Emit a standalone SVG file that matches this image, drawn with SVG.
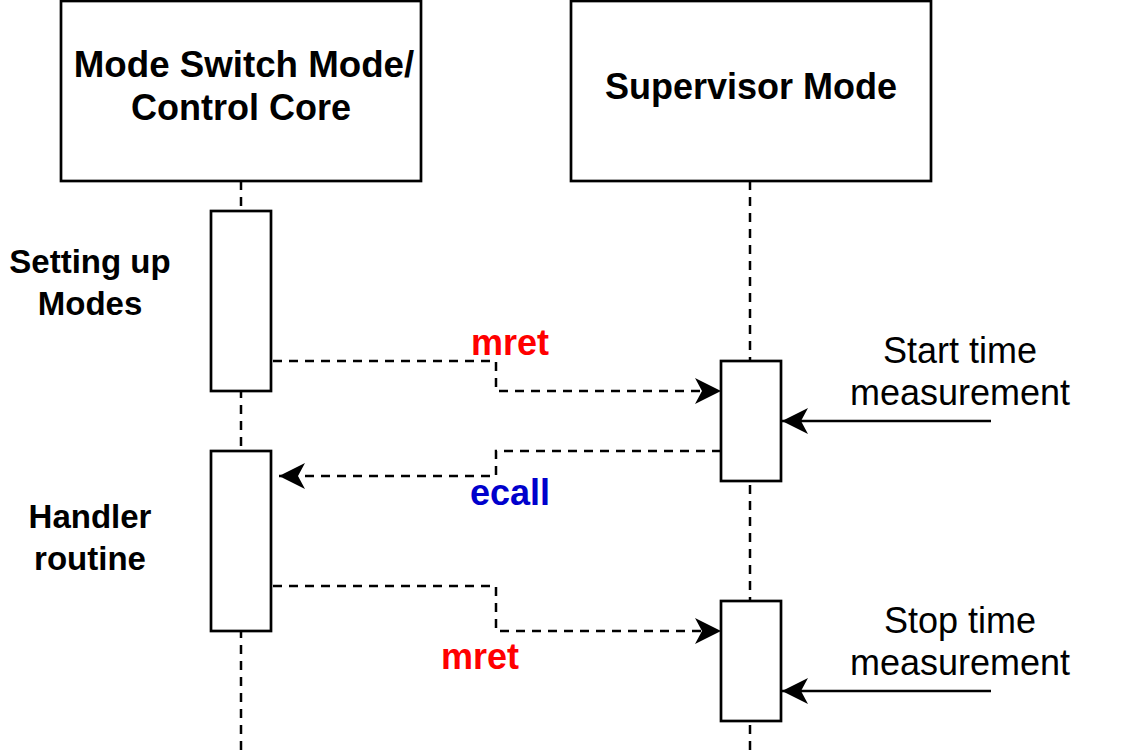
<svg xmlns="http://www.w3.org/2000/svg" width="1140" height="756" viewBox="0 0 1140 756">
<style>
.box{fill:#fff;stroke:#000;stroke-width:2.7}
.life{stroke:#000;stroke-width:2.5;stroke-dasharray:9 7;fill:none}
.msg{stroke:#000;stroke-width:2.5;stroke-dasharray:9 7;fill:none}
.solid{stroke:#000;stroke-width:2.7;fill:none}
text{font-family:"Liberation Sans",Arial,Helvetica,sans-serif;font-size:36px;text-anchor:middle;fill:#000}
.b{font-weight:bold}
.side{font-size:33px}
</style>
<defs>
<marker id="arr" markerUnits="userSpaceOnUse" markerWidth="28" markerHeight="28" viewBox="0 0 28 28" refX="26" refY="14" orient="auto">
<path d="M26,14 L0,1 L7,14 L0,27 Z" fill="#000"/>
</marker>
</defs>
<rect width="1140" height="756" fill="#fff"/>
<g id="lifelines">
<line class="life" x1="241" y1="181" x2="241" y2="756"/>
<line class="life" x1="750" y1="181" x2="750" y2="756"/>
</g>
<g id="mode-switch">
<rect class="box" x="61" y="1" width="360" height="180"/>
<text class="b" x="244" y="77" style="font-size:36.7px">Mode Switch Mode/</text>
<text class="b" x="241" y="120">Control Core</text>
</g>
<g id="supervisor">
<rect class="box" x="571" y="1" width="360" height="180"/>
<text class="b" x="751" y="99">Supervisor Mode</text>
</g>
<g id="act-setup">
<rect class="box" x="211" y="211" width="60" height="180"/>
</g>
<g id="act-handler">
<rect class="box" x="211" y="451" width="60" height="180"/>
</g>
<g id="act-sup1">
<rect class="box" x="721" y="361" width="60" height="120"/>
</g>
<g id="act-sup2">
<rect class="box" x="721" y="601" width="60" height="120"/>
</g>
<g id="connectors">
<path class="msg" d="M273,361 H496 V391 H721" marker-end="url(#arr)"/>
<path class="msg" d="M721,451 H496 V476 H279" marker-end="url(#arr)"/>
<path class="msg" d="M273,586 H496 V631 H721" marker-end="url(#arr)"/>
<path class="solid" d="M991,421 H782" marker-end="url(#arr)"/>
<path class="solid" d="M991,691 H782" marker-end="url(#arr)"/>
</g>
<g id="labels">
<text class="b side" x="90" y="273">Setting up</text>
<text class="b side" x="90" y="315">Modes</text>
<text class="b side" x="90" y="528">Handler</text>
<text class="b side" x="90" y="570">routine</text>
<text class="b" x="510" y="355" style="fill:#FF0000">mret</text>
<text class="b" x="510" y="505" style="fill:#0000CC">ecall</text>
<text class="b" x="480" y="669" style="fill:#FF0000">mret</text>
<text x="960" y="363">Start time</text>
<text x="960" y="405">measurement</text>
<text x="960" y="633">Stop time</text>
<text x="960" y="675">measurement</text>
</g>
</svg>
